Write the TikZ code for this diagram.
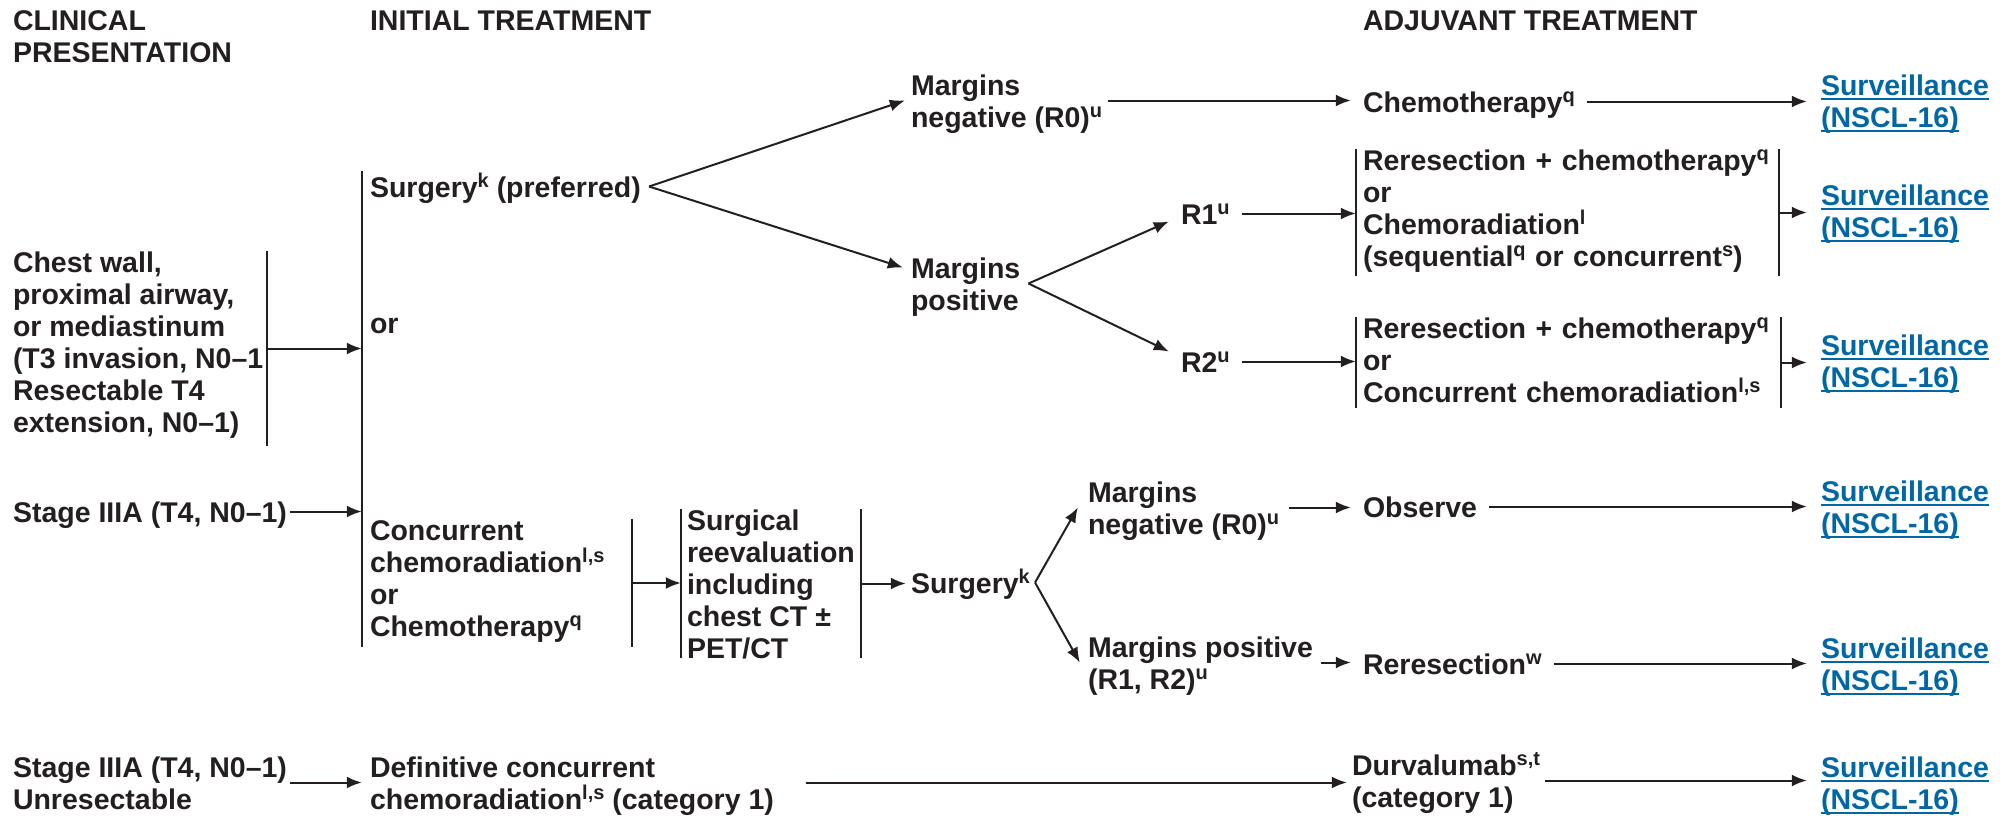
\documentclass[tikz,border=0pt]{standalone}
\usepackage{fontspec}
\setmainfont{Liberation Sans}
\usepackage{tikz}
\usetikzlibrary{arrows.meta,positioning}
\definecolor{ink}{HTML}{231F20}
\definecolor{lnkblue}{HTML}{0067A5}
\newcommand{\sups}[1]{\raisebox{10pt}{\fontsize{20}{20}\selectfont #1}}
\newsavebox{\lnkbox}
\newcommand{\lnk}[1]{\sbox{\lnkbox}{#1}\rlap{\rule[-5pt]{\wd\lnkbox}{1.8pt}}\usebox{\lnkbox}}
\tikzstyle{txt} = [anchor=text, inner xsep=8pt, inner ysep=0pt, align=left,
text height=21pt, text depth=0pt, text=ink, font=\fontsize{28.5}{32}\selectfont\bfseries]
\tikzstyle{two} = [text height=53pt]
\tikzstyle{link} = [txt, two, inner xsep=14pt, text=lnkblue]
\tikzstyle{bar} = [draw=ink, line width=2pt]
\tikzstyle{arr} = [->, draw=ink, line width=2pt]

\begin{document}
\begin{tikzpicture}[x=1pt, y=-1pt, >={Latex[length=15pt,width=12pt]}]
\useasboundingbox (0,0) rectangle (2013,816);
% column heads
\node(hclin)[txt, two] at (13,63) {CLINICAL\\PRESENTATION};
\node(hinit)[txt] at (370,31) {INITIAL TREATMENT};
\node(hadj)[txt] at (1363,31) {ADJUVANT TREATMENT};

% presentation
\node(chest)[txt, inner xsep=4pt, text height=181pt, text depth=14pt] at (13,432) {Chest wall,\\proximal airway,\\or mediastinum\\(T3 invasion, N0–1\\Resectable T4\\extension, N0–1)};
\node(stage)[txt, inner xsep=3pt] at (13,522) {Stage IIIA (T4, N0–1)};
\node(unres)[txt, two, inner xsep=3pt] at (13,809) {Stage IIIA (T4, N0–1)\\Unresectable};

% initial treatment
\node(surgpref)[txt] at (370,197) {Surgery\sups{k} (preferred)};
\node(orA)[txt] at (370,333) {or};
\node(ccrt)[txt, text width=254pt, text depth=107pt] at (370,540) {Concurrent\\chemoradiation\sups{l,s}\\or\\Chemotherapy\sups{q}};
\node(defin)[txt, two] at (370,809) {Definitive concurrent\\chemoradiation\sups{l,s} (category 1)};
\node(reeval)[txt, inner xsep=6pt, text height=149pt] at (687,658) {Surgical\\reevaluation\\including\\chest CT ±\\PET/CT};
\node(surg)[txt, inner xsep=5pt] at (911,593) {Surgery\sups{k}};

% margins
\node(mneg)[txt, two, inner xsep=6pt] at (911,127) {Margins\\negative (R0)\sups{u}};
\node(mpos)[txt, two, inner xsep=8pt] at (911,310) {Margins\\positive};
\node(rone)[txt, inner xsep=12pt] at (1181,224) {R1\sups{u}};
\node(rtwo)[txt, inner xsep=12pt] at (1181,372) {R2\sups{u}};
\node(mnegb)[txt, two, inner xsep=10pt] at (1088,534) {Margins\\negative (R0)\sups{u}};
\node(mposb)[txt, two, inner xsep=8pt] at (1088,689) {Margins positive\\(R1, R2)\sups{u}};

% adjuvant treatment
\node(chemo)[txt, inner xsep=12pt] at (1363,112) {Chemotherapy\sups{q}};
\node(rrone)[txt, inner xsep=7pt, text width=409pt, text depth=106pt] at (1363,170) {Reresection~+~chemotherapy\sups{q}\\or\\Chemoradiation\sups{l}\\(sequential\sups{q} or concurrent\sups{s})};
\node(rrtwo)[txt, inner xsep=7pt, text width=411pt, text depth=70pt] at (1363,338) {Reresection~+~chemotherapy\sups{q}\\or\\Concurrent chemoradiation\sups{l,s}};
\node(observe)[txt, inner xsep=12pt] at (1363,517) {Observe};
\node(reres)[txt, inner xsep=12pt] at (1363,674) {Reresection\sups{w}};
\node(durva)[txt, two, inner xsep=5pt] at (1352,807) {Durvalumab\sups{s,t}\\(category 1)};

% surveillance links
\foreach \n/\y in {1/127, 2/237, 3/387, 4/533, 5/690, 6/809}
  \node(surv\n)[link] at (1821,\y) {\lnk{Surveillance}\\\lnk{(NSCL-16)}};

% bars
\draw[bar] ([yshift=5pt]surgpref.north west) -- (surgpref.west |- ccrt.south);
\draw[bar] (chest.north east) -- (chest.south east);
\draw[bar] (ccrt.north east) -- (ccrt.south east);
\foreach \b in {reeval, rrone, rrtwo} {
  \draw[bar] (\b.north west) -- (\b.south west);
  \draw[bar] (\b.north east) -- (\b.south east);
}

% arrows
\draw[arr] (chest.east) -- (chest.east -| surgpref.west);
\draw[arr] (stage.east) -- (stage.east -| surgpref.west);
\draw[arr] (unres.east) -- (unres.east -| defin.west);
\draw[arr] (surgpref.east) -- (mneg.west);
\draw[arr] (surgpref.east) -- ([yshift=16pt]mpos.west);
\draw[arr] (mneg.east) -- (mneg.east -| chemo.west);
\draw[arr] (chemo.east) -- (chemo.east -| surv1.west);
\draw[arr] (mpos.east) -- ([yshift=-8pt]rone.west);
\draw[arr] (mpos.east) -- ([yshift=10pt]rtwo.west);
\draw[arr] (rone.east) -- (rone.east -| rrone.west);
\draw[arr] (rtwo.east) -- (rtwo.east -| rrtwo.west);
\draw[arr] (rrone.east) -- (rrone.east -| surv2.west);
\draw[arr] (rrtwo.east) -- (rrtwo.east -| surv3.west);
\draw[arr] (ccrt.east) -- (ccrt.east -| reeval.west);
\draw[arr] (reeval.east) -- (reeval.east -| surg.west);
\draw[arr] (surg.east) -- (mnegb.west);
\draw[arr] (surg.east) -- (mposb.west);
\draw[arr] (mnegb.east) -- (mnegb.east -| observe.west);
\draw[arr] (observe.east) -- (observe.east -| surv4.west);
\draw[arr] (mposb.east) -- (mposb.east -| reres.west);
\draw[arr] (reres.east) -- (reres.east -| surv5.west);
\draw[arr, shorten <=24pt] (defin.east) -- (defin.east -| durva.west);
\draw[arr] (durva.east) -- (durva.east -| surv6.west);
\end{tikzpicture}
\end{document}
